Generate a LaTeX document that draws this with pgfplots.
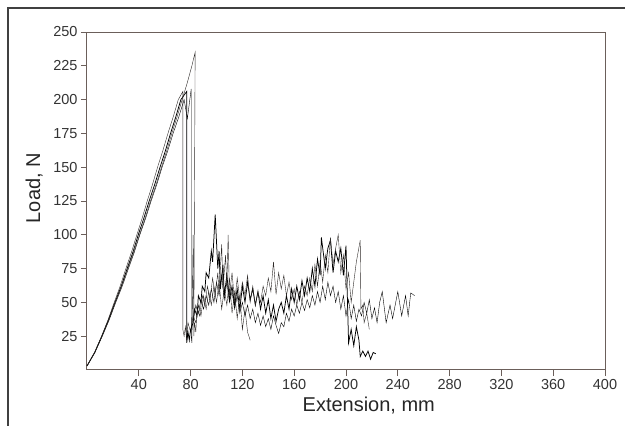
\documentclass[border=0pt]{standalone}
\usepackage{pgfplots}
\pgfplotsset{compat=1.18}
\usepackage{fontspec}
\setmainfont{Liberation Sans}
\definecolor{axisc}{HTML}{6B5F5A}
\definecolor{datac}{HTML}{2E2A28}
\begin{document}
\begin{tikzpicture}
\useasboundingbox (0pt,0pt) rectangle (625pt,426pt);
% scan frame
\draw[line width=1.3pt,color=black!75] (8pt,0pt) -- (8pt,418pt) -- (625pt,418pt);
\begin{axis}[
  at={(87pt,56pt)}, anchor=south west,
  scale only axis, width=518pt, height=338pt,
  xmin=0, xmax=400, ymin=0, ymax=250,
  xtick={40,80,...,400}, ytick={25,50,...,250},
  axis line style={axisc, line width=1pt},
  tick style={axisc, line width=0.8pt},
  tick align=outside, major tick length=6pt,
  xtick pos=bottom, ytick pos=left,
  tick label style={font=\fontsize{14.5}{16}\selectfont, text=black!80},
  /pgf/number format/assume math mode=true,
  xlabel={Extension, mm}, ylabel={Load, N},
  label style={font=\fontsize{20}{22}\selectfont, text=black!85},
  xlabel style={at={(axis description cs:0.544,-0.104)}, anchor=center},
  ylabel style={at={(axis description cs:-0.102,0.538)}, anchor=center, rotate=0},
  cycle list={{datac, line width=0.75pt, mark=none}},
  clip=false,
]
% specimen 1
\addplot coordinates {
 (0,3) (5.8,13) (11.2,25) (16.2,37) (21,50) (25.6,62) (30,75) (34.3,87) (38.5,100) (42.5,112)
 (46.5,125) (50.5,137) (54.5,150) (58.5,162) (62.5,175) (66.5,187) (70.5,200) (74,206)
 (74,30) (75,25) (76,32) (77,22) (78,35) (80,28) (82,40) (84,35) (86,48) (88,40) (90,55) (92,45)
 (94,58) (96,48) (98,62) (100,50) (102,65) (104,45) (106,60) (108,48) (110,68) (112,42) (114,58)
 (116,38) (118,55) (120,30) (122,45) (124,28) (126,22)
};
% specimen 2
\addplot coordinates {
 (0,3) (6,13) (11.5,25) (16.6,37) (21.6,50) (26.4,62) (31,75) (35.4,87) (39.6,100) (43.8,112)
 (48,125) (52.2,137) (56.4,150) (60.5,162) (64.5,175) (68.5,187) (72.5,200) (77,206)
 (77,20) (78,28) (79,22) (80,30) (82,35) (83,45) (85,40) (86,55) (88,50) (89,62) (91,58) (92,72)
 (94,68) (96,88) (97,80) (99,115) (101,75) (102,88) (103,60) (105,78) (106,55) (108,70) (110,52)
 (112,62) (114,48) (116,60) (118,45) (120,62) (122,50) (124,65) (126,52) (128,60) (130,48) (132,58)
 (134,45) (136,55) (138,42) (140,52) (142,38) (144,48) (146,36) (148,45) (150,50) (152,42) (154,55)
 (156,45) (158,60) (160,50) (162,62) (164,52) (166,66) (168,55) (170,68) (172,58) (174,75) (176,62)
 (178,82) (180,70) (181,98) (184,75) (186,90) (188,96) (190,72) (192,88) (194,80) (196,90) (198,70)
 (200,92) (202,20) (204,30) (206,18) (208,32) (210,22) (211,10) (213,14) (215,10) (217,14) (219,8)
 (221,13) (223,12)
};
% specimen 3
\addplot coordinates {
 (0,3) (6.1,13) (11.8,25) (17.1,37) (22.2,50) (27.2,62) (32,75) (36.5,87) (40.8,100) (45.2,112)
 (49.5,125) (53.8,137) (58,150) (62.3,162) (66.5,175) (70.8,187) (75,200) (77.5,186)
 (80.5,208) (80.5,25) (81,20) (82,100) (82.5,40) (84,48) (86,42) (88,52) (90,45) (92,55) (94,48)
 (96,60) (98,50) (100,65) (102,55) (104,70) (106,52) (108,65) (110,50) (112,58) (114,45) (116,55)
 (118,42) (120,50) (122,40) (124,48) (126,38) (128,45) (130,35) (132,42) (134,33) (136,40) (138,32)
 (140,38) (142,30) (144,40) (146,33) (148,27) (150,35) (152,32) (154,42) (156,36) (158,45) (160,40)
 (162,48) (164,42) (166,50) (168,44) (170,52) (172,46) (174,55) (176,48) (178,58) (180,50) (182,62)
 (184,52) (186,65) (188,55) (190,62) (192,50) (194,58) (196,45) (198,55) (200,40) (202,52) (204,38)
 (206,48) (208,36) (210,45) (212,40) (214,50) (216,42) (218,52) (220,38) (222,46) (224,35) (226,50)
 (228,58) (231,35) (234,48) (236,38) (240,58) (243,40) (246,55) (248,40) (250,57) (253,55)
};
% specimen 4
\addplot coordinates {
 (0,3) (6,13) (11.5,25) (16.8,37) (21.8,50) (26.7,62) (31.5,75) (36,87) (40.5,100) (44.8,112)
 (49,125) (53.3,137) (57.5,150) (61.5,162) (65.5,175) (69.5,187) (73.5,200) (77.3,212) (81,225)
 (83.5,235) (82.5,25) (83,35) (84,28) (85,45) (87,40) (89,55) (91,48) (93,62) (95,52) (97,68)
 (99,55) (101,72) (102,58) (104,93) (105,60) (107,85) (108,62) (109,100) (110,55) (112,72) (114,50)
 (116,68) (118,52) (120,65) (122,55) (124,70) (126,50) (128,62) (130,48) (132,58) (134,50) (136,62)
 (138,55) (140,68) (142,58) (144,80) (146,56) (148,72) (150,60) (152,70) (154,55) (156,65) (158,52)
 (160,60) (162,48) (164,58) (166,50) (168,62) (170,55) (172,68) (174,58) (176,78) (178,62) (180,80)
 (182,65) (184,85) (186,72) (188,98) (190,78) (192,90) (194,100) (196,72) (198,85) (200,60)
 (202,72) (204,50) (206,65) (208,80) (211,96) (211.5,45) (213,48) (214,35) (216,42) (218,30)
};
\end{axis}
\end{tikzpicture}
\end{document}
